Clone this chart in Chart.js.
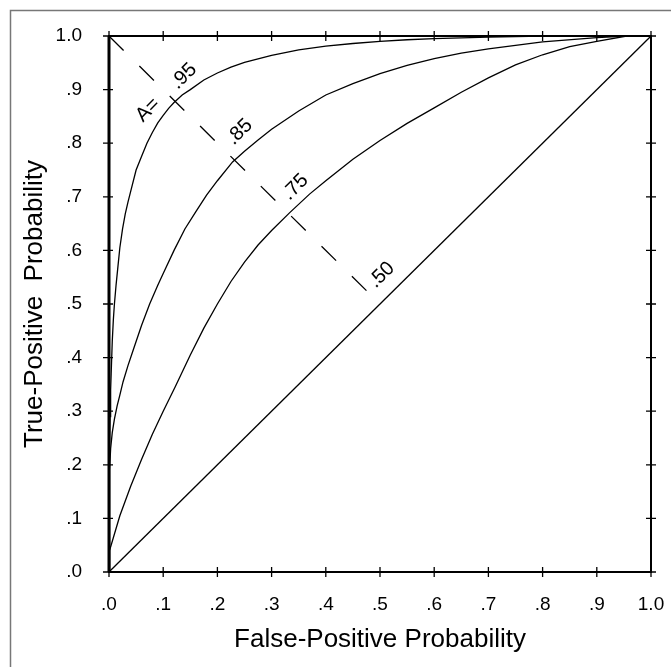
<!DOCTYPE html>
<html>
<head>
<meta charset="utf-8">
<script src="https://cdn.jsdelivr.net/npm/chart.js@4.4.0/dist/chart.umd.min.js"></script>
<style>
  html, body { margin: 0; padding: 0; background: #fff; }
  #wrap { width: 671px; height: 667px; }
</style>
</head>
<body>
<div id="wrap"><canvas id="rocChart" width="671" height="667"></canvas></div>
<script>
// axis ticks
var tickValues = [0, 0.1, 0.2, 0.3, 0.4, 0.5, 0.6, 0.7, 0.8, 0.9, 1.0];
var tickLabels = ['.0', '.1', '.2', '.3', '.4', '.5', '.6', '.7', '.8', '.9', '1.0'];

// ROC curves (false-positive, true-positive)
var curve95X = [0, 0.0005, 0.001, 0.002, 0.003, 0.004, 0.006, 0.008, 0.01, 0.013, 0.016, 0.02, 0.025, 0.03, 0.035, 0.04, 0.05, 0.06, 0.07, 0.08, 0.09, 0.1, 0.11, 0.12, 0.135, 0.15, 0.175, 0.2, 0.225, 0.25, 0.3, 0.35, 0.4, 0.45, 0.5, 0.55, 0.6, 0.7, 0.8, 0.955];
var curve95Y = [0, 0.15, 0.21, 0.29, 0.34, 0.37, 0.43, 0.47, 0.5, 0.535, 0.565, 0.605, 0.64, 0.668, 0.69, 0.71, 0.75, 0.775, 0.8, 0.82, 0.838, 0.852, 0.865, 0.876, 0.89, 0.9, 0.918, 0.931, 0.942, 0.951, 0.964, 0.974, 0.981, 0.986, 0.99, 0.993, 0.995, 0.998, 1.0, 1.0];

var curve85X = [0, 0.001, 0.003, 0.006, 0.01, 0.015, 0.02, 0.026, 0.035, 0.045, 0.06, 0.075, 0.09, 0.1, 0.12, 0.14, 0.16, 0.18, 0.2, 0.228, 0.25, 0.275, 0.3, 0.35, 0.4, 0.45, 0.5, 0.55, 0.6, 0.65, 0.7, 0.8, 0.9, 0.955];
var curve85Y = [0, 0.19, 0.23, 0.26, 0.285, 0.31, 0.33, 0.355, 0.385, 0.415, 0.46, 0.5, 0.535, 0.557, 0.6, 0.64, 0.672, 0.703, 0.73, 0.765, 0.785, 0.806, 0.826, 0.86, 0.89, 0.911, 0.93, 0.945, 0.958, 0.968, 0.976, 0.989, 0.997, 1.0];

var curve75X = [0, 0.001, 0.02, 0.04, 0.06, 0.08, 0.1, 0.122, 0.15, 0.175, 0.2, 0.225, 0.25, 0.275, 0.3, 0.333, 0.37, 0.4, 0.45, 0.5, 0.55, 0.6, 0.65, 0.7, 0.75, 0.8, 0.85, 0.9, 0.955];
var curve75Y = [0, 0.04, 0.105, 0.16, 0.21, 0.257, 0.3, 0.345, 0.405, 0.455, 0.5, 0.542, 0.578, 0.61, 0.637, 0.67, 0.705, 0.73, 0.77, 0.805, 0.837, 0.866, 0.895, 0.922, 0.946, 0.965, 0.98, 0.99, 1.0];

var curve50X = [0, 1];
var curve50Y = [0, 1];

// dashed iso line through the labels
var isoX = [0, 0.475];
var isoY = [1, 0.525];

var FONT = '"Liberation Sans", Arial, Helvetica, sans-serif';

function pts(xs, ys) {
  return xs.map(function(x, i) { return {x: x, y: ys[i]}; });
}

function curve(xs, ys) {
  return {
    data: pts(xs, ys),
    borderColor: '#000',
    borderWidth: 1.3,
    pointRadius: 0,
    fill: false,
    tension: 0
  };
}

// area labels along the dashed line
var areaText = ['A=', '.95', '.85', '.75', '.50'];
var areaAtX = [0.072, 0.138, 0.241, 0.344, 0.503];
var areaAtY = [0.862, 0.925, 0.821, 0.718, 0.554];

var framePlugin = {
  id: 'framePlugin',
  beforeDraw: function(chart) {
    var ctx = chart.ctx;
    ctx.save();
    ctx.fillStyle = '#fff';
    ctx.fillRect(0, 0, chart.width, chart.height);
    ctx.strokeStyle = '#777';
    ctx.lineWidth = 1.5;
    ctx.beginPath();
    ctx.moveTo(10.5, chart.height);
    ctx.lineTo(10.5, 10.5);
    ctx.lineTo(chart.width, 10.5);
    ctx.stroke();
    ctx.restore();
  },
  afterDatasetsDraw: function(chart) {
    var ctx = chart.ctx, a = chart.chartArea;
    var xs = chart.scales.x, ys = chart.scales.y;
    ctx.save();
    ctx.strokeStyle = '#000';
    ctx.lineWidth = 2;
    ctx.strokeRect(a.left, a.top, a.right - a.left, a.bottom - a.top);
    // left edge is heavier in the scan
    ctx.lineWidth = 3;
    ctx.beginPath();
    ctx.moveTo(a.left, a.top); ctx.lineTo(a.left, a.bottom);
    ctx.stroke();
    ctx.lineWidth = 1.3;
    ctx.beginPath();
    tickValues.forEach(function(v) {
      var px = xs.getPixelForValue(v), py = ys.getPixelForValue(v);
      ctx.moveTo(px, a.bottom - 5); ctx.lineTo(px, a.bottom + 5);
      ctx.moveTo(px, a.top - 5); ctx.lineTo(px, a.top + 5);
      ctx.moveTo(a.left - 6, py); ctx.lineTo(a.left + 4, py);
      ctx.moveTo(a.right - 5, py); ctx.lineTo(a.right + 5, py);
    });
    ctx.stroke();

    ctx.fillStyle = '#000';
    ctx.font = '20px ' + FONT;
    ctx.textAlign = 'center';
    ctx.textBaseline = 'middle';
    areaText.forEach(function(t, i) {
      ctx.save();
      ctx.translate(xs.getPixelForValue(areaAtX[i]), ys.getPixelForValue(areaAtY[i]));
      ctx.rotate(-Math.PI / 4);
      ctx.fillText(t, 0, 0);
      ctx.restore();
    });
    ctx.restore();
  }
};

var dashed = {
  data: pts(isoX, isoY),
  borderColor: '#000',
  borderWidth: 1.3,
  borderDash: [20.5, 22.2],
  pointRadius: 0,
  fill: false,
  tension: 0
};

var ctx = document.getElementById('rocChart').getContext('2d');
var myChart = new Chart(ctx, {
  type: 'line',
  data: {
    datasets: [
      curve(curve95X, curve95Y),
      curve(curve85X, curve85Y),
      curve(curve75X, curve75Y),
      curve(curve50X, curve50Y),
      dashed
    ]
  },
  options: {
    responsive: false,
    animation: false,
    devicePixelRatio: 1,
    layout: { padding: { left: 0, top: 36, right: 20, bottom: 0 } },
    plugins: { legend: { display: false }, tooltip: { enabled: false } },
    scales: {
      x: {
        type: 'linear',
        min: 0, max: 1,
        afterFit: function(s) { s.height = 95; s.paddingLeft = 0; s.paddingRight = 0; },
        afterBuildTicks: function(s) { s.ticks = tickValues.map(function(v) { return {value: v}; }); },
        grid: { display: false, drawTicks: false },
        border: { display: false },
        ticks: {
          padding: 21,
          color: '#000',
          font: { family: FONT, size: 19 },
          maxRotation: 0,
          callback: function(v, i) { return tickLabels[i]; }
        },
        title: {
          display: true,
          text: 'False-Positive Probability',
          color: '#000',
          font: { family: FONT, size: 26, lineHeight: 1.2 },
          padding: { top: 0, bottom: 12 }
        }
      },
      y: {
        type: 'linear',
        min: 0, max: 1,
        afterFit: function(s) { s.width = 109; s.paddingTop = 0; s.paddingBottom = 0; },
        afterBuildTicks: function(s) { s.ticks = tickValues.map(function(v) { return {value: v}; }); },
        grid: { display: false, drawTicks: false },
        border: { display: false },
        ticks: {
          padding: 27,
          color: '#000',
          font: { family: FONT, size: 19 },
          callback: function(v, i) { return tickLabels[i]; }
        },
        title: {
          display: true,
          text: 'True-Positive  Probability',
          color: '#000',
          font: { family: FONT, size: 26, lineHeight: 1.2 },
          padding: { top: 19, bottom: 0 }
        }
      }
    }
  },
  plugins: [framePlugin]
});
</script>
</body>
</html>
